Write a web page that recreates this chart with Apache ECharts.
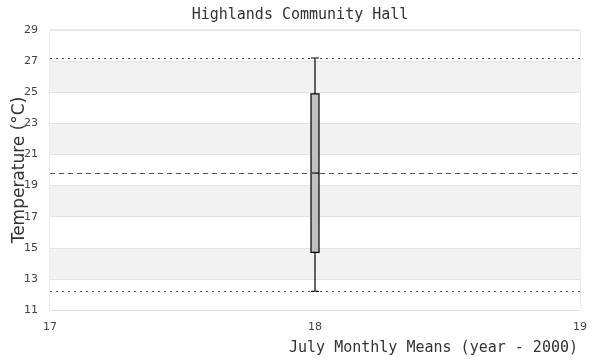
<!DOCTYPE html>
<html>
<head>
<meta charset="utf-8">
<script src="https://cdn.jsdelivr.net/npm/echarts@6/dist/echarts.min.js"></script>
<style>html,body{margin:0;padding:0;background:#fff}#c{width:600px;height:360px}</style>
</head>
<body>
<div id="c"></div>
<script>
const titleText = 'Highlands Community Hall';
const xName = 'July Monthly Means (year - 2000)';
const yName = 'Temperature (°C)';
const years = [18];
const boxStats = [[12.2, 14.7, 19.8, 24.9, 27.2]]; // min, Q1, median, Q3, max
const refLow = 12.2;
const refHigh = 27.2;
const refMedian = 19.8;
const xTicks = [17, 18, 19];
const yTicks = [11, 13, 15, 17, 19, 21, 23, 25, 27, 29];

const boxData = years.map((y, i) => [y].concat(boxStats[i]));

const chart = echarts.init(document.getElementById('c'), null, {renderer: 'canvas'});
chart.setOption({
  animation: false,
  backgroundColor: '#ffffff',
  title: {
    text: titleText, left: 'center', top: 3,
    textStyle: {fontFamily: 'DejaVu Sans Mono', fontSize: 15, fontWeight: 'normal', color: '#333'}
  },
  grid: {left: 50, right: 20, top: 30, bottom: 50, show: true, borderColor: '#d9d9d9', borderWidth: 1,
         backgroundColor: 'transparent', containLabel: false, outerBoundsMode: 'none'},
  xAxis: {
    type: 'value', min: xTicks[0], max: xTicks[xTicks.length - 1], interval: 1,
    name: xName, nameLocation: 'end', nameGap: 0, nameMoveOverlap: false,
    nameTextStyle: {fontFamily: 'DejaVu Sans Mono', fontSize: 15, color: '#333', align: 'right', verticalAlign: 'top', padding: [31, 2, 0, 0]},
    axisLine: {show: false}, axisTick: {show: false},
    axisLabel: {fontFamily: 'DejaVu Sans', fontSize: 11, color: '#444', margin: 12},
    splitLine: {show: false}
  },
  yAxis: {
    type: 'value', min: yTicks[0], max: yTicks[yTicks.length - 1], interval: 2,
    name: yName, nameLocation: 'middle', nameGap: 22, nameMoveOverlap: false,
    nameTextStyle: {fontFamily: 'DejaVu Sans', fontSize: 17, color: '#333'},
    axisLine: {show: false}, axisTick: {show: false},
    axisLabel: {fontFamily: 'DejaVu Sans', fontSize: 11, color: '#444', margin: 12},
    splitLine: {show: true, lineStyle: {color: '#e3e3e3', width: 1}},
    splitArea: {show: true, areaStyle: {color: ['#ffffff', '#f2f2f2']}}
  },
  series: [{
    type: 'boxplot',
    data: boxData,
    encode: {x: 0, y: [1, 2, 3, 4, 5]},
    boxWidth: [8, 8],
    itemStyle: {color: '#c0c0c0', borderColor: '#000', borderWidth: 1.2},
    silent: true,
    markLine: {
      silent: true, symbol: 'none', label: {show: false},
      data: [
        {yAxis: refHigh, lineStyle: {type: [2, 4], color: '#555', width: 1}},
        {yAxis: refLow, lineStyle: {type: [2, 4], color: '#555', width: 1}},
        {yAxis: refMedian, lineStyle: {type: [5, 4], color: '#555', width: 1}}
      ]
    }
  }]
});
</script>
</body>
</html>
